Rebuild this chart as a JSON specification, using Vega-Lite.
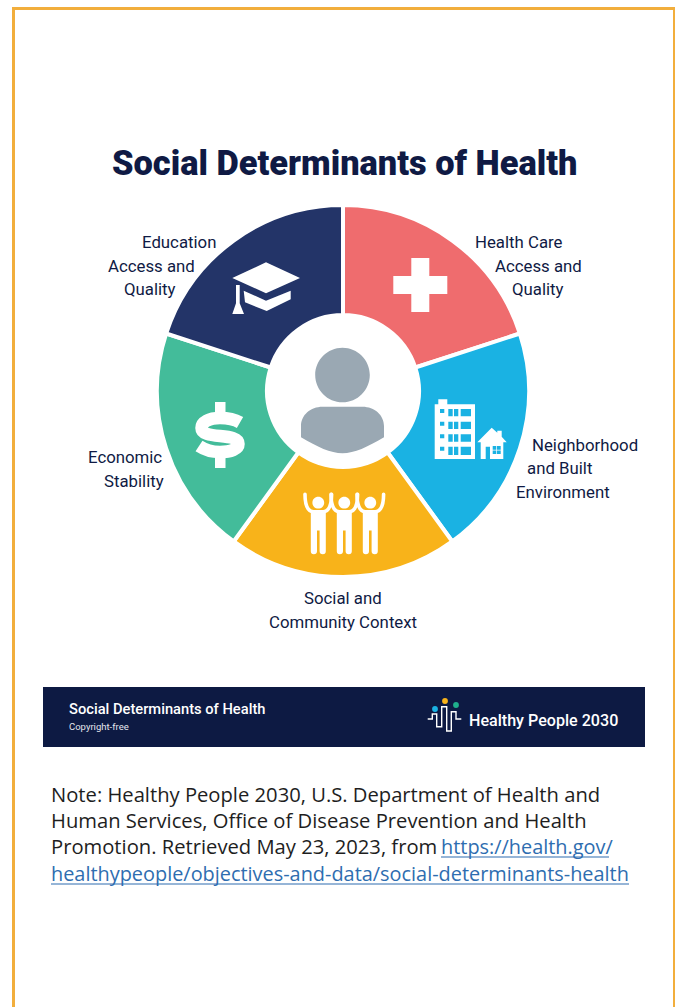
{
  "$schema": "https://vega.github.io/schema/vega-lite/v6.json",
  "width": 675,
  "height": 1007,
  "autosize": {"type": "fit", "contains": "padding"},
  "padding": 0,
  "background": "#ffffff",
  "config": {"view": {"stroke": null}, "axis": {"domain": false, "grid": false, "ticks": false, "labels": false, "title": null}},
  "resolve": {"scale": {"color": "independent"}},
  "datasets": {
    "sectors": [
      {"seq": 1, "sector": "Health Care Access and Quality", "share": 20, "x": 343, "y": 391},
      {"seq": 2, "sector": "Neighborhood and Built Environment", "share": 20, "x": 343, "y": 391},
      {"seq": 3, "sector": "Social and Community Context", "share": 20, "x": 343, "y": 391},
      {"seq": 4, "sector": "Economic Stability", "share": 20, "x": 343, "y": 391},
      {"seq": 5, "sector": "Education Access and Quality", "share": 20, "x": 343, "y": 391}
    ],
    "frame": [
      {"x0": 12, "x1": 15, "y0": 7, "y1": 1007},
      {"x0": 12, "x1": 675, "y0": 7, "y1": 10},
      {"x0": 673, "x1": 675, "y0": 7, "y1": 1007}
    ],
    "banner": [{"x0": 43, "x1": 645, "y0": 687, "y1": 747}],
    "labels": [
      {"t": "Education", "x": 142, "y": 248},
      {"t": "Access and", "x": 108, "y": 272},
      {"t": "Quality", "x": 124, "y": 295},
      {"t": "Health Care", "x": 475, "y": 248},
      {"t": "Access and", "x": 495, "y": 272},
      {"t": "Quality", "x": 512, "y": 295},
      {"t": "Neighborhood", "x": 532, "y": 451},
      {"t": "and Built", "x": 527, "y": 474},
      {"t": "Environment", "x": 516, "y": 498},
      {"t": "Economic", "x": 88, "y": 463},
      {"t": "Stability", "x": 104, "y": 487},
      {"t": "Social and", "x": 304, "y": 604},
      {"t": "Community Context", "x": 269, "y": 628}
    ],
    "note": [
      {"t": "Note: Healthy People 2030, U.S. Department of Health and", "x": 51, "y": 802},
      {"t": "Human Services, Office of Disease Prevention and Health", "x": 51, "y": 828},
      {"t": "Promotion. Retrieved May 23, 2023, from", "x": 51, "y": 854}
    ],
    "link": [
      {"t": "https://health.gov/", "x": 441, "y": 854, "end": 609, "under": 857},
      {"t": "healthypeople/objectives-and-data/social-determinants-health", "x": 51, "y": 881, "end": 629, "under": 884}
    ],
    "whiteIcons": [
      {"icon": "plus", "x": 420.3, "y": 285},
      {"icon": "cap", "x": 266, "y": 280},
      {"icon": "city", "x": 455, "y": 430},
      {"icon": "bars", "x": 220, "y": 435},
      {"icon": "figure", "x": 318.3, "y": 523.3},
      {"icon": "figure", "x": 344.3, "y": 523.3},
      {"icon": "figure", "x": 370.3, "y": 523.3}
    ],
    "arms": [
      {"x": 318.3, "y": 523.3},
      {"x": 344.3, "y": 523.3},
      {"x": 370.3, "y": 523.3}
    ],
    "dots": [
      {"dot": "blue", "x": 435, "y": 709},
      {"dot": "orange", "x": 445, "y": 701},
      {"dot": "green", "x": 456, "y": 705}
    ]
  },
  "encoding": {
    "x": {"field": "x", "type": "quantitative", "axis": null, "stack": false, "scale": {"domain": [0, 675], "nice": false, "zero": false}},
    "y": {"field": "y", "type": "quantitative", "axis": null, "stack": false, "scale": {"domain": [1007, 0], "nice": false, "zero": false}}
  },
  "layer": [
    {
      "description": "Page frame",
      "data": {"name": "frame"},
      "mark": {"type": "rect", "color": "#F2AE3C"},
      "encoding": {
        "x": {"field": "x0", "type": "quantitative"},
        "x2": {"field": "x1"},
        "y": {"field": "y0", "type": "quantitative"},
        "y2": {"field": "y1"}
      }
    },
    {
      "description": "Five equal sectors of the wheel",
      "data": {"name": "sectors"},
      "transform": [
        {"stack": "share", "groupby": [], "sort": [{"field": "seq", "order": "ascending"}], "as": ["from", "to"]}
      ],
      "mark": {"type": "arc", "outerRadius": 186, "innerRadius": 76, "stroke": "#ffffff", "strokeWidth": 4},
      "encoding": {
        "theta": {"field": "from", "type": "quantitative", "stack": false, "scale": {"domain": [0, 100]}},
        "theta2": {"field": "to"},
        "color": {
          "field": "sector",
          "type": "nominal",
          "legend": null,
          "scale": {
            "domain": ["Health Care Access and Quality", "Neighborhood and Built Environment", "Social and Community Context", "Economic Stability", "Education Access and Quality"],
            "range": ["#EF6C6E", "#1AB2E3", "#F8B31A", "#43BC9A", "#233468"]
          }
        }
      }
    },
    {
      "description": "Solid white pictograms inside the sectors",
      "data": {"name": "whiteIcons"},
      "mark": {"type": "point", "filled": true, "opacity": 1, "color": "#ffffff", "size": 4},
      "encoding": {
        "shape": {
          "field": "icon",
          "type": "nominal",
          "legend": null,
          "scale": {
            "domain": ["plus", "cap", "city", "figure", "bars"],
            "range": [
              "M-9,-27L9,-27L9,-9L27,-9L27,9L9,9L9,27L-9,27L-9,9L-27,9L-27,-9L-9,-9Z",
              "M0,-17.7L34,-2L0,13.3L-33.7,-2Z M-22.3,10.7L0,20.7L24.7,10.7L24.7,19.3L0.7,31L-21,22.3Z M-30,5L-26.3,5L-26.3,23.3L-22,34L-33.7,34L-30,23.3Z",
              "M-20.3,-25.7L-16.7,-25.7L-16.7,-30.7L-7.7,-30.7L-7.7,-25.7L20,-25.7L20,29L-20.3,29Z M-15,-21L-15,-17L-10.7,-17L-10.7,-21Z M-15,-8.3L-15,-4.3L-10.7,-4.3L-10.7,-8.3Z M-15,4.3L-15,8.3L-10.7,8.3L-10.7,4.3Z M-15,16.7L-15,20.7L-10.7,20.7L-10.7,16.7Z M-6.7,-21L-6.7,-13.7L-2.3,-13.7L-2.3,-21Z M-1,-21L-1,-13.7L3.3,-13.7L3.3,-21Z M5.7,-21L5.7,-13.7L16,-13.7L16,-21Z M-6.7,-8.3L-6.7,-1L-2.3,-1L-2.3,-8.3Z M-1,-8.3L-1,-1L3.3,-1L3.3,-8.3Z M5.7,-8.3L5.7,-1L16,-1L16,-8.3Z M-6.7,4.3L-6.7,11.7L-2.3,11.7L-2.3,4.3Z M-1,4.3L-1,11.7L3.3,11.7L3.3,4.3Z M5.7,4.3L5.7,11.7L16,11.7L16,4.3Z M-6.7,16.7L-6.7,25L-2.3,25L-2.3,16.7Z M-1,16.7L-1,25L3.3,25L3.3,16.7Z M5.7,16.7L5.7,25L16,25L16,16.7Z M22.3,12.3L36.7,-2.3L42.3,2.7L42.3,0.7L46.7,0.7L46.7,6.7L51.7,12.3L48.3,12.3L48.3,29L25.7,29L25.7,12.3Z M30.7,16.7L30.7,29L35,29L35,16.7Z M37.7,16L37.7,19.7L41.3,19.7L41.3,16Z M42,16L42,19.7L45.7,19.7L45.7,16Z M37.7,20.4L37.7,24L41.3,24L41.3,20.4Z M42,20.4L42,24L45.7,24L45.7,20.4Z",
              "M-5.9,-20.6A5.9,5.9 0 1 1 5.9,-20.6A5.9,5.9 0 1 1 -5.9,-20.6Z M-7.5,-13L7.5,-13L7.5,28Q7.5,31 4.5,31Q1.3,31 1.3,28L1.3,7.3L-1.3,7.3L-1.3,28Q-1.3,31 -4.5,31Q-7.5,31 -7.5,28Z",
              "M-5,-33L5.5,-33L5.5,-20L-5,-20Z M-5,20L5.5,20L5.5,33L-5,33Z"
            ]
          }
        }
      }
    },
    {
      "description": "Curved stroke of the dollar sign",
      "data": {"values": [{"x": 220, "y": 435}]},
      "mark": {
        "type": "point",
        "filled": false,
        "opacity": 1,
        "stroke": "#ffffff",
        "strokeWidth": 12.5,
        "size": 4,
        "shape": "M20,-12.5C14,-16 6,-17 0,-17C-11,-17 -18.5,-13 -18.5,-7C-18.5,-1 -10,0 0,1C10,2 18.5,3 18.5,9C18.5,14 11,17 0,17C-7,17 -15,15 -21,11"
      }
    },
    {
      "description": "Raised, linked arms of the three figures",
      "data": {"name": "arms"},
      "mark": {
        "type": "point",
        "filled": false,
        "opacity": 1,
        "stroke": "#ffffff",
        "strokeWidth": 3.6,
        "strokeCap": "round",
        "size": 4,
        "shape": "M-13.3,-29C-13.3,-18 -10,-12 -5,-11.5L5,-11.5C10,-12 13.3,-18 13.3,-29"
      }
    },
    {
      "description": "Person at the hub of the wheel",
      "data": {"values": [{"x": 342.5, "y": 415}]},
      "mark": {
        "type": "point",
        "filled": true,
        "opacity": 1,
        "color": "#9AA8B3",
        "size": 4,
        "shape": "M-27.3,-40A27.3,27.3 0 1 1 27.3,-40A27.3,27.3 0 1 1 -27.3,-40Z M-41.5,22.3L-41.5,11C-41.5,0 -32,-8.3 -20,-8.3L20,-8.3C32,-8.3 41.5,0 41.5,11L41.5,22.3C25,32 12,38.3 0,38.3C-12,38.3 -25,32 -41.5,22.3Z"
      }
    },
    {
      "description": "Heading",
      "data": {"values": [{"t": "Social Determinants of Health", "x": 112, "y": 174.5}]},
      "mark": {"type": "text", "font": "Roboto", "fontWeight": 900, "fontSize": 34.4, "color": "#0F1A44", "align": "left", "baseline": "alphabetic"},
      "encoding": {"text": {"field": "t"}}
    },
    {
      "description": "Sector labels",
      "data": {"name": "labels"},
      "mark": {"type": "text", "font": "Roboto", "fontSize": 16.8, "color": "#0F1A44", "align": "left", "baseline": "alphabetic"},
      "encoding": {"text": {"field": "t"}}
    },
    {
      "description": "Banner",
      "data": {"name": "banner"},
      "mark": {"type": "rect", "color": "#0D1A43"},
      "encoding": {
        "x": {"field": "x0", "type": "quantitative"},
        "x2": {"field": "x1"},
        "y": {"field": "y0", "type": "quantitative"},
        "y2": {"field": "y1"}
      }
    },
    {
      "data": {"values": [{"t": "Social Determinants of Health", "x": 69, "y": 714}]},
      "mark": {"type": "text", "font": "Roboto", "fontWeight": 500, "fontSize": 14.7, "color": "#ffffff", "align": "left", "baseline": "alphabetic"},
      "encoding": {"text": {"field": "t"}}
    },
    {
      "data": {"values": [{"t": "Copyright-free", "x": 69, "y": 730}]},
      "mark": {"type": "text", "font": "Roboto", "fontSize": 9.5, "color": "#E4E6EC", "align": "left", "baseline": "alphabetic"},
      "encoding": {"text": {"field": "t"}}
    },
    {
      "data": {"values": [{"t": "Healthy People 2030", "x": 469, "y": 726}]},
      "mark": {"type": "text", "font": "Roboto", "fontWeight": 500, "fontSize": 16.1, "color": "#ffffff", "align": "left", "baseline": "alphabetic"},
      "encoding": {"text": {"field": "t"}}
    },
    {
      "description": "Logo trace",
      "data": {"values": [{"x": 443, "y": 720}]},
      "mark": {
        "type": "point",
        "filled": false,
        "opacity": 1,
        "stroke": "#ffffff",
        "strokeWidth": 1.4,
        "size": 4,
        "shape": "M-15.3,-1L-10.7,-1L-10.7,-6L-6.3,-6L-6.3,6.7L-1.3,6.7L-1.3,-13.3L3.7,-13.3L3.7,11L8.3,11L8.3,-8.3L13,-8.3L13,-1L18.3,-1"
      }
    },
    {
      "description": "Logo dots",
      "data": {"name": "dots"},
      "mark": {"type": "point", "shape": "circle", "filled": true, "opacity": 1, "size": 34},
      "encoding": {
        "color": {
          "field": "dot",
          "type": "nominal",
          "legend": null,
          "scale": {"domain": ["blue", "orange", "green"], "range": ["#1AB2E3", "#F8B31A", "#1FAF8C"]}
        }
      }
    },
    {
      "description": "Source note",
      "data": {"name": "note"},
      "mark": {"type": "text", "font": "Open Sans", "fontSize": 20.2, "color": "#1E1E1E", "align": "left", "baseline": "alphabetic"},
      "encoding": {"text": {"field": "t"}}
    },
    {
      "description": "Source link",
      "data": {"name": "link"},
      "mark": {"type": "text", "font": "Open Sans", "fontSize": 19.9, "color": "#2E6DB0", "align": "left", "baseline": "alphabetic"},
      "encoding": {"text": {"field": "t"}}
    },
    {
      "description": "Link underlines",
      "data": {"name": "link"},
      "mark": {"type": "rule", "color": "#2E6DB0", "strokeWidth": 1.2},
      "encoding": {
        "x": {"field": "x", "type": "quantitative"},
        "x2": {"field": "end"},
        "y": {"field": "under", "type": "quantitative"}
      }
    }
  ]
}
